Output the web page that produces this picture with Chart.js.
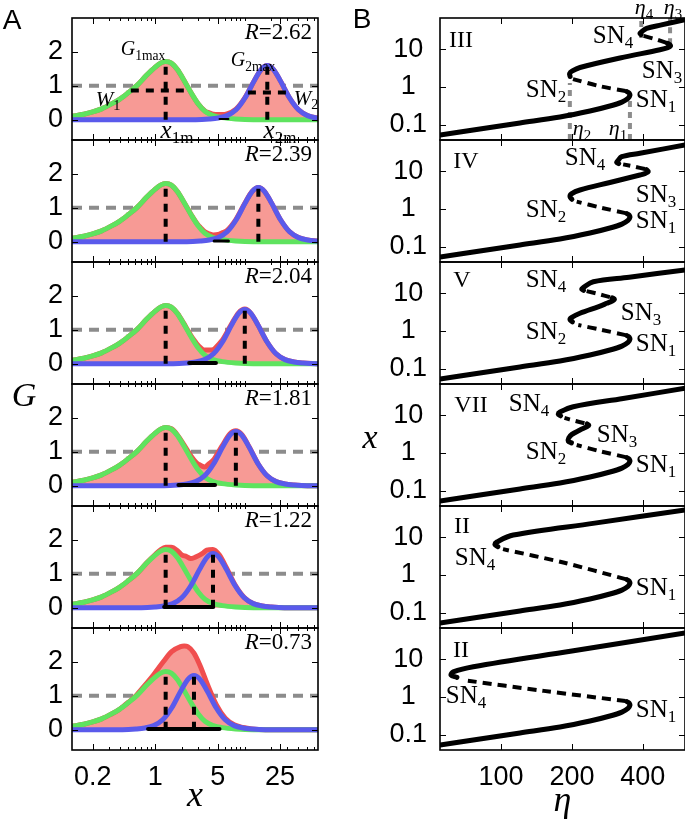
<!DOCTYPE html>
<html>
<head>
<meta charset="utf-8">
<script src="https://cdn.jsdelivr.net/npm/chart.js@4.4.1/dist/chart.umd.min.js"></script>
<style>
  html, body { margin: 0; padding: 0; background: #fff; }
  #fig { position: relative; width: 685px; height: 824px; overflow: hidden; background: #fff; }
  #fig canvas { position: absolute; }
  .t { position: absolute; white-space: nowrap; line-height: 1; color: #000;
       font-family: "Liberation Serif", "Times New Roman", serif; transform: translate(-50%, -50%); }
  .t sub { font-size: 0.68em; vertical-align: -0.35em; line-height: 0; }
  .t.sans { font-family: "Liberation Sans", Arial, sans-serif; }
  .t.right { transform: translate(-100%, -50%); }
</style>
</head>
<body>
<div id="fig"></div>
<script>
// ---------- panel A : G against x (x read on a log axis, stored as log10 x) ----------
const rValues = [2.62, 2.39, 2.04, 1.81, 1.22, 0.73];
const x1mLog = 0.117;
const x2mLog = [1.255, 1.155, 1.003, 0.903, 0.647, 0.434];

const greenLogX = [-0.93,-0.8,-0.7,-0.6,-0.5,-0.4,-0.3,-0.2,-0.1,0,0.06,0.117,0.18,0.25,0.32,0.40,0.48,0.56,0.65,0.75,0.9,1.1,1.823];
const greenG    = [0.10,0.16,0.23,0.32,0.45,0.60,0.80,1.02,1.30,1.55,1.67,1.72,1.67,1.47,1.17,0.80,0.47,0.24,0.12,0.06,0.02,0,0];

// second peak, decades away from its maximum
const blueOffset = [-0.8,-0.65,-0.55,-0.45,-0.35,-0.25,-0.15,-0.07,0,0.07,0.15,0.25,0.35,0.45,0.55,0.65,0.8];
const blueG      = [0,0.02,0.05,0.12,0.29,0.64,1.13,1.48,1.60,1.48,1.13,0.64,0.29,0.12,0.05,0.02,0];

// total (red) per panel, [log10 x, G]
const total262 = [[-0.93,0.10],[-0.8,0.16],[-0.7,0.23],[-0.6,0.32],[-0.5,0.45],[-0.4,0.60],[-0.3,0.80],[-0.2,1.02],[-0.1,1.30],[0,1.55],[0.06,1.67],[0.117,1.72],[0.18,1.67],[0.25,1.47],[0.32,1.17],[0.40,0.80],[0.48,0.47],[0.56,0.25],[0.605,0.20],[0.65,0.16],[0.705,0.15],[0.75,0.15],[0.805,0.17],[0.905,0.31],[1.005,0.65],[1.105,1.13],[1.185,1.48],[1.255,1.60],[1.325,1.48],[1.405,1.13],[1.505,0.64],[1.605,0.29],[1.705,0.12],[1.823,0.045]];
const total239 = [[-0.93,0.10],[-0.8,0.16],[-0.7,0.23],[-0.6,0.32],[-0.5,0.45],[-0.4,0.60],[-0.3,0.80],[-0.2,1.02],[-0.1,1.30],[0,1.55],[0.06,1.67],[0.117,1.72],[0.18,1.67],[0.25,1.47],[0.32,1.17],[0.40,0.81],[0.48,0.49],[0.505,0.42],[0.56,0.28],[0.605,0.23],[0.65,0.20],[0.705,0.21],[0.75,0.26],[0.805,0.335],[0.905,0.66],[1.005,1.14],[1.085,1.48],[1.155,1.60],[1.225,1.48],[1.305,1.13],[1.405,0.64],[1.505,0.29],[1.605,0.12],[1.705,0.05],[1.823,0.018]];
const total204 = [[-0.93,0.10],[-0.8,0.16],[-0.7,0.23],[-0.6,0.32],[-0.5,0.45],[-0.4,0.60],[-0.3,0.80],[-0.2,1.02],[-0.1,1.30],[0,1.55],[0.06,1.67],[0.117,1.72],[0.18,1.67],[0.25,1.48],[0.32,1.19],[0.353,1.04],[0.40,0.83],[0.453,0.63],[0.48,0.54],[0.553,0.40],[0.60,0.40],[0.653,0.42],[0.70,0.54],[0.753,0.70],[0.853,1.16],[0.933,1.50],[1.003,1.61],[1.073,1.48],[1.153,1.13],[1.253,0.64],[1.353,0.29],[1.453,0.12],[1.553,0.05],[1.653,0.02],[1.823,0]];
const total181 = [[-0.93,0.10],[-0.8,0.16],[-0.7,0.23],[-0.6,0.32],[-0.5,0.45],[-0.4,0.60],[-0.3,0.80],[-0.2,1.02],[-0.1,1.30],[0,1.55],[0.06,1.67],[0.117,1.72],[0.18,1.68],[0.25,1.49],[0.32,1.21],[0.353,1.07],[0.40,0.88],[0.453,0.70],[0.48,0.64],[0.553,0.55],[0.60,0.64],[0.653,0.76],[0.70,0.96],[0.753,1.19],[0.833,1.52],[0.903,1.62],[0.973,1.50],[1.053,1.14],[1.153,0.64],[1.253,0.29],[1.353,0.12],[1.453,0.05],[1.553,0.02],[1.703,0],[1.823,0]];
const total122 = [[-0.93,0.10],[-0.8,0.16],[-0.7,0.23],[-0.6,0.32],[-0.5,0.45],[-0.4,0.60],[-0.3,0.80],[-0.2,1.02],[-0.153,1.15],[-0.1,1.31],[0,1.57],[0.06,1.71],[0.117,1.78],[0.18,1.78],[0.25,1.68],[0.297,1.56],[0.35,1.51],[0.397,1.45],[0.45,1.49],[0.497,1.55],[0.54,1.62],[0.577,1.70],[0.647,1.72],[0.717,1.56],[0.797,1.18],[0.897,0.66],[0.997,0.30],[1.097,0.12],[1.197,0.05],[1.297,0.02],[1.447,0],[1.823,0]];
const total073 = [[-0.93,0.10],[-0.8,0.16],[-0.7,0.23],[-0.6,0.32],[-0.5,0.45],[-0.4,0.60],[-0.366,0.67],[-0.3,0.81],[-0.216,1.0],[-0.116,1.31],[-0.016,1.63],[0.084,1.98],[0.184,2.30],[0.284,2.45],[0.324,2.47],[0.364,2.45],[0.434,2.26],[0.504,1.88],[0.584,1.34],[0.684,0.74],[0.784,0.34],[0.884,0.145],[0.984,0.065],[1.084,0.02],[1.234,0],[1.823,0]];
const totals = [total262, total239, total204, total181, total122, total073];

// dark band on the baseline where the two peaks overlap, [log10 x from, log10 x to]
const overlapBand = [[0.72, 0.82], [0.66, 0.82], [0.38, 0.68], [0.26, 0.67], [0.10, 0.65], [-0.08, 0.72]];
const bandWidth = [2, 3, 4, 4, 4, 4];
const bandLevel = 0.02;

const peakTopG = [1.68, 1.58];           // tops of the dashed drop lines
const halfWidth1 = [-0.273, 0.387], halfLevel1 = 0.86;
const halfWidth2 = [1.038, 1.472],  halfLevel2 = 0.80;
const refLevel = 1;

const xTicksA = [0.2, 1, 5, 25];
const yTicksA = [0, 1, 2];

// ---------- panel B : x against eta, pairs are [eta, x] ----------
const lowerStable = [[55.1,0.054],[81.4,0.078],[120.4,0.112],[178,0.161],[238.6,0.232],[290,0.315],[326,0.40],[346,0.50],[352.6,0.61],[350,0.69],[343,0.75]];

const III_unstable1 = [[338,0.78],[263,1.05],[202,1.62]];
const III_middle    = [[196.5,1.9],[195.5,2.25],[201,2.65],[216.4,3.27],[320,5.8],[472.7,9.6],[511,10.9],[524,12.0],[520,13.2],[510,14.2]];
const III_unstable2 = [[505,14.6],[450,18.4],[400,22.6]];
const III_upper     = [[393,24.0],[389,26.0],[395.6,28.7],[415,35.3],[480,43.4],[604,59.9]];

const IV_unstable1 = [[338,0.78],[268,1.07],[209.6,1.56]];
const IV_middle    = [[200,1.8],[196.3,2.1],[199,2.5],[216.4,3.17],[290,5.0],[388.8,7.88],[410,8.7],[422,9.7],[414,10.9]];
const IV_unstable2 = [[408,11.3],[370,13.0],[330,15.0]];
const IV_upper     = [[316,15.8],[309.8,17.0],[313,18.5],[325.3,23.9],[388.8,29.5],[604,48.8]];

const V_unstable1 = [[338,0.78],[265,1.08],[212.9,1.44]];
const V_middle    = [[201,1.75],[196.3,1.98],[199,2.25],[216.4,2.93],[260,4.4],[281,5.37],[298,6.3],[303,6.9],[297,7.5]];
const V_unstable2 = [[290,7.8],[260,9.4],[230,11.3]];
const V_upper     = [[224,11.8],[220,12.8],[224,14.2],[246.5,19.9],[350,26.3],[604,40.6]];

const VII_unstable1 = [[338,0.78],[262,1.12],[209.6,1.62]];
const VII_middle    = [[199,1.85],[193.1,2.02],[194,2.5],[200,3.1],[216.4,4.04],[231.1,4.93],[236,5.4],[232,5.85]];
const VII_unstable2 = [[226,6.1],[205,7.1],[186,8.4]];
const VII_upper     = [[179,9.6],[175.1,10.5],[178,12.0],[202.7,16.6],[330,27.4],[604,50.9]];

const IIa_unstable = [[338,0.78],[184,2.13],[102,4.8]];
const IIa_upper    = [[97,5.6],[94.3,6.3],[96,7.4],[112.8,11.3],[250,23.3],[604,51.8]];

const IIb_unstable = [[338,0.78],[152,1.45],[72,2.7]];
const IIb_upper    = [[65,3.3],[61.4,3.8],[62.7,4.6],[76.3,6.29],[200,16.3],[604,48.5]];

// saddle-node positions marked in panel III: [eta, x from, x to]
const etaMarks = [[196, 0.04, 1.27], [352.6, 0.04, 0.45], [394, 19.6, 66], [522, 13.5, 66]];

const xTicksB = [100, 200, 400];
const yTicksB = [0.1, 1, 10];

const regimes = ['III', 'IV', 'V', 'VII', 'II', 'II'];

// ---------- layout ----------
const fig = document.getElementById('fig');
const panelTop = k => 18 + 122 * k;

function addCanvas(left, top, w, h) {
  const c = document.createElement('canvas');
  c.width = w; c.height = h;
  c.style.left = left + 'px'; c.style.top = top + 'px';
  c.style.width = w + 'px'; c.style.height = h + 'px';
  fig.appendChild(c);
  return c;
}

function note(html, x, y, size, cls) {
  const d = document.createElement('div');
  d.className = 't ' + (cls || '');
  d.style.left = x + 'px'; d.style.top = y + 'px'; d.style.fontSize = size + 'px';
  d.innerHTML = html;
  fig.appendChild(d);
}

const frame = {
  id: 'frame',
  afterDraw(chart, args, o) {
    const {ctx, chartArea: a} = chart;
    const sx = chart.scales.x, sy = chart.scales.y;
    ctx.save();
    ctx.strokeStyle = '#000';
    ctx.lineWidth = 1;
    ctx.beginPath();
    for (const [v, len] of o.xMarks) {
      const p = Math.round(sx.getPixelForValue(v)) + 0.5;
      ctx.moveTo(p, a.top); ctx.lineTo(p, a.top + len);
      ctx.moveTo(p, a.bottom); ctx.lineTo(p, a.bottom - len);
    }
    for (const [v, len] of o.yMarks) {
      const p = Math.round(sy.getPixelForValue(v)) + 0.5;
      ctx.moveTo(a.left, p); ctx.lineTo(a.left + len, p);
      ctx.moveTo(a.right, p); ctx.lineTo(a.right - len, p);
    }
    ctx.stroke();
    ctx.lineWidth = 1.6;
    ctx.strokeRect(a.left, a.top, a.right - a.left, a.bottom - a.top);
    ctx.restore();
  }
};

const tickFont = {family: '"Liberation Sans", Arial, sans-serif', size: 27};
const titleFont = {family: '"Liberation Serif", serif', style: 'italic', size: 36};

// no extra room for labels that hang over the ends of an axis
const noOverhang = s => { s.paddingTop = 0; s.paddingBottom = 0; s.paddingLeft = 0; s.paddingRight = 0; };

function line(data, color, width, extra) {
  return Object.assign({
    data, borderColor: color, backgroundColor: color, borderWidth: width,
    pointRadius: 0, showLine: true, fill: false
  }, extra || {});
}

function baseOptions(xScale, yScale, marks) {
  return {
    responsive: false, devicePixelRatio: 1, animation: false, events: [],
    plugins: {legend: {display: false}, tooltip: {enabled: false}, frame: marks},
    scales: {x: xScale, y: yScale}
  };
}

// ---------- column A ----------
const pt = (lx, g) => ({x: 10 ** lx, y: g});
const xMinA = 0.117, xMaxA = 66.5;
const minorA = [0.3,0.4,0.5,0.6,0.7,0.8,0.9,2,3,4,6,7,8,9,10,20,30,40,50,60];

for (let k = 0; k < 6; k++) {
  const bottom = k === 5;
  const top = panelTop(k) - 3;
  const h = bottom ? 824 - top : 128;
  const cv = addCanvas(0, top, 322, h);

  const blue = blueOffset.map((o, i) => pt(x2mLog[k] + o, blueG[i]));
  blue.unshift({x: xMinA, y: 0});
  if (x2mLog[k] + 0.8 < Math.log10(xMaxA)) blue.push({x: xMaxA, y: 0});

  const smooth = {cubicInterpolationMode: 'monotone'};
  const dash = {borderDash: [8, 7], borderCapStyle: 'butt'};
  const ds = [
    line([{x: xMinA, y: refLevel}, {x: xMaxA, y: refLevel}], '#8c8c8c', 4, {borderDash: [10, 7], order: 10}),
    line(totals[k].map(p => pt(p[0], p[1])), '#f04e4e', 5, Object.assign({fill: 'origin', backgroundColor: '#f79a95', order: 9}, smooth)),
    line(greenLogX.map((lx, i) => pt(lx, greenG[i])), '#5fe35f', 5, Object.assign({order: 8}, smooth)),
    line(blue, '#5a5aeb', 5, Object.assign({order: 7}, smooth)),
    line(overlapBand[k].map(lx => pt(lx, bandLevel)), '#000', bandWidth[k], {order: 6, borderCapStyle: 'round'}),
    line([pt(x1mLog, 0), pt(x1mLog, peakTopG[0])], '#000', 4, Object.assign({order: 5}, dash)),
    line([pt(x2mLog[k], 0), pt(x2mLog[k], peakTopG[1])], '#000', 4, Object.assign({order: 5}, dash))
  ];
  if (k === 0) {
    ds.push(line(halfWidth1.map(lx => pt(lx, halfLevel1)), '#000', 4, Object.assign({order: 5}, dash)));
    ds.push(line(halfWidth2.map(lx => pt(lx, halfLevel2)), '#000', 4, Object.assign({order: 5}, dash)));
  }

  const xScale = {
    type: 'logarithmic', min: xMinA, max: xMaxA, display: bottom,
    afterBuildTicks: s => { s.ticks = xTicksA.map(v => ({value: v})); },
    afterFit: s => { noOverhang(s); if (bottom) s.height = 74; },
    grid: {display: false, drawTicks: false}, border: {display: false},
    ticks: {font: tickFont, color: '#000', padding: 11, maxRotation: 0, autoSkip: false, callback: v => String(v)},
    title: {display: true, text: 'x', font: titleFont, color: '#000', padding: {top: 0, bottom: 6}}
  };
  const yScale = {
    type: 'linear', min: -0.6, max: 3.0,
    afterBuildTicks: s => { s.ticks = yTicksA.map(v => ({value: v})); },
    afterFit: s => { noOverhang(s); s.width = 72; },
    grid: {display: false, drawTicks: false}, border: {display: false},
    ticks: {font: tickFont, color: '#000', padding: 9, crossAlign: 'center', callback: v => String(v)}
  };
  const marks = {
    xMarks: xTicksA.map(v => [v, 6]).concat(minorA.map(v => [v, 3])),
    yMarks: yTicksA.map(v => [v, 6])
  };
  const opt = baseOptions(xScale, yScale, marks);
  opt.layout = {padding: {top: 3, right: 4, bottom: bottom ? 0 : 3, left: 0}};
  new Chart(cv, {type: 'scatter', data: {datasets: ds}, options: opt, plugins: [frame]});
}

// ---------- column B ----------
const xy = p => ({x: p[0], y: p[1]});
const solidB = [
  [lowerStable, III_middle, III_upper],
  [lowerStable, IV_middle, IV_upper],
  [lowerStable, V_middle, V_upper],
  [lowerStable, VII_middle, VII_upper],
  [lowerStable, IIa_upper],
  [lowerStable, IIb_upper]
];
const dashedB = [
  [III_unstable1, III_unstable2],
  [IV_unstable1, IV_unstable2],
  [V_unstable1, V_unstable2],
  [VII_unstable1, VII_unstable2],
  [IIa_unstable],
  [IIb_unstable]
];

for (let k = 0; k < 6; k++) {
  const bottom = k === 5;
  const top = panelTop(k) - 3;
  const h = bottom ? 824 - top : 128;
  const cv = addCanvas(340, top, 345, h);

  const ds = [];
  if (k === 0) {
    etaMarks.forEach(m => ds.push(line([{x: m[0], y: m[1]}, {x: m[0], y: m[2]}], '#8c8c8c', 4,
      {borderDash: [6, 5], order: 6})));
  }
  dashedB[k].forEach(b => ds.push(line(b.map(xy), '#000', 4,
    {borderDash: [9, 6], tension: 0.3, order: 5})));
  solidB[k].forEach(b => ds.push(line(b.map(xy), '#000', 5,
    {tension: 0.35, borderCapStyle: 'round', borderJoinStyle: 'round', order: 4})));

  const xScale = {
    type: 'logarithmic', min: 55.1, max: 604, display: bottom,
    afterBuildTicks: s => { s.ticks = xTicksB.map(v => ({value: v})); },
    afterFit: s => { noOverhang(s); if (bottom) s.height = 74; },
    grid: {display: false, drawTicks: false}, border: {display: false},
    ticks: {font: tickFont, color: '#000', padding: 11, maxRotation: 0, autoSkip: false, callback: v => String(v)},
    title: {display: true, text: 'η', font: titleFont, color: '#000', padding: {top: 0, bottom: 1}}
  };
  const yScale = {
    type: 'logarithmic', min: 0.04, max: 66,
    afterBuildTicks: s => { s.ticks = yTicksB.map(v => ({value: v})); },
    afterFit: s => { noOverhang(s); s.width = 100; },
    grid: {display: false, drawTicks: false}, border: {display: false},
    ticks: {font: tickFont, color: '#000', padding: 13, crossAlign: 'center', callback: v => String(v)}
  };
  const marks = {xMarks: xTicksB.map(v => [v, 6]), yMarks: yTicksB.map(v => [v, 6])};
  const opt = baseOptions(xScale, yScale, marks);
  opt.layout = {padding: {top: 3, right: 0, bottom: bottom ? 0 : 3, left: 0}};
  new Chart(cv, {type: 'scatter', data: {datasets: ds}, options: opt, plugins: [frame]});
}

// ---------- annotations ----------
note('A', 12, 20, 28, 'sans');
note('B', 362, 19, 28, 'sans');
note('<i>G</i>', 24, 395, 34);
note('<i>x</i>', 370, 437, 34);

rValues.forEach((r, k) => note('<i>R</i>=' + r.toFixed(2), 312, 31 + 122 * k, 23, 'right'));

note('<i>G</i><sub>1max</sub>', 143, 48, 20);
note('<i>G</i><sub>2max</sub>', 253, 59, 20);
note('<i>W</i><sub>1</sub>', 108, 99, 21);
note('<i>W</i><sub>2</sub>', 306, 98, 21);
note('<i>x</i><sub>1m</sub>', 177, 129, 25);
note('<i>x</i><sub>2m</sub>', 280, 129, 25);

note('<i>η</i><sub>4</sub>', 644, 7, 22);
note('<i>η</i><sub>3</sub>', 673, 7, 22);
note('<i>η</i><sub>2</sub>', 582, 128, 22);
note('<i>η</i><sub>1</sub>', 618, 128, 22);

const regimePos = [[461, 39], [466, 160], [462, 279], [471, 404], [462, 525], [461, 649]];
regimes.forEach((r, k) => note(r, regimePos[k][0], regimePos[k][1], 24));

const snPos = [
  [[4, 613, 34], [3, 662, 69], [2, 546, 88], [1, 656, 98]],
  [[4, 585, 156], [3, 656, 193], [2, 546, 208], [1, 656, 219]],
  [[4, 546, 278], [3, 641, 311], [2, 546, 330], [1, 656, 342]],
  [[4, 529, 402], [3, 617, 433], [2, 546, 450], [1, 656, 463]],
  [[4, 475, 556], [1, 656, 586]],
  [[4, 466, 694], [1, 656, 708]]
];
snPos.forEach(list => list.forEach(([n, x, y]) => note('SN<sub>' + n + '</sub>', x, y, 25)));
</script>
</body>
</html>
